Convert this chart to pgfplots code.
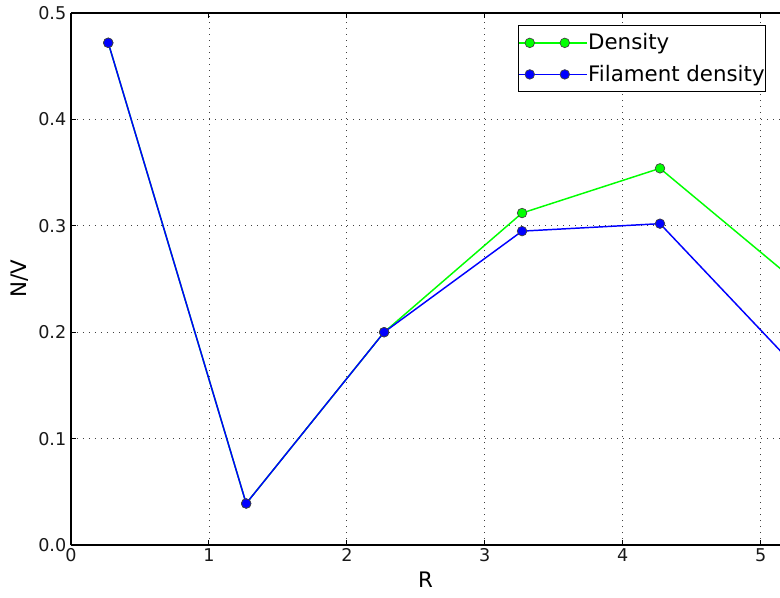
\documentclass[border=0pt]{standalone}
\usepackage{fontspec}
\setmainfont{DejaVu Sans}
\usepackage{pgfplots}
\pgfplotsset{compat=1.18}
\definecolor{dgreen}{RGB}{0,255,0}
\definecolor{dblue}{RGB}{0,0,255}
\begin{document}
\begin{tikzpicture}
\useasboundingbox (-53.25pt,-39pt) rectangle (531.75pt,408.75pt);
\begin{axis}[
    scale only axis,
    width=531.75pt, height=399pt,
    xmin=0, xmax=5.14, ymin=0, ymax=0.5,
    xtick={0,1,2,3,4,5},
    ytick={0,0.1,0.2,0.3,0.4,0.5},
    yticklabel style={/pgf/number format/.cd,fixed,fixed zerofill,precision=1},
    /pgf/number format/assume math mode=true,
    axis x line*=box, axis y line*=left,
    tick align=inside,
    major tick length=3.75pt,
    tick style={black, line width=0.7pt},
    axis line style={black, line width=1pt},
    grid=major,
    grid style={black!75, dash pattern=on 0.9pt off 3.6pt, line width=0.6pt},
    tick label style={font=\fontsize{13.2}{15}\selectfont, text=black!90},
    xticklabel style={yshift=1pt},
    label style={font=\fontsize{16}{18}\selectfont},
    xlabel={R}, ylabel={N/V},
    xlabel style={at={(axis description cs:0.5,-0.0658)}, anchor=center},
    ylabel style={at={(axis description cs:-0.072,0.5)}, anchor=center},
    clip marker paths=true,
    legend style={at={(rel axis cs:0.980,0.977)}, anchor=north east,
        draw=black, line width=0.8pt, font=\fontsize{16}{18}\selectfont,
        inner xsep=0pt, inner ysep=4pt, row sep=6pt,
        nodes={inner xsep=0.5pt, inner ysep=2pt}},
    legend cell align=left,
    legend image code/.code={
        \path (0pt,0pt) -- (51pt,0pt);
        \draw[#1, mark repeat=2, mark phase=1]
        plot coordinates {(8.25pt,0pt) (21.4pt,0pt) (34.5pt,0pt)};},
]
\addplot[color=dgreen, line width=1.1pt, mark=*,
    mark size=3.6pt, mark options={fill=dgreen, draw=black!75, line width=0.5pt}]
coordinates {(0.27,0.472) (1.27,0.039) (2.27,0.200) (3.27,0.312) (4.27,0.354) (5.27,0.246)};
\addlegendentry{Density}
\addplot[color=dblue, line width=1.1pt, mark=*,
    mark size=3.6pt, mark options={fill=dblue, draw=black!75, line width=0.5pt}]
coordinates {(0.27,0.472) (1.27,0.039) (2.27,0.200) (3.27,0.295) (4.27,0.302) (5.27,0.165)};
\addlegendentry{Filament density}
\end{axis}
\end{tikzpicture}
\end{document}
